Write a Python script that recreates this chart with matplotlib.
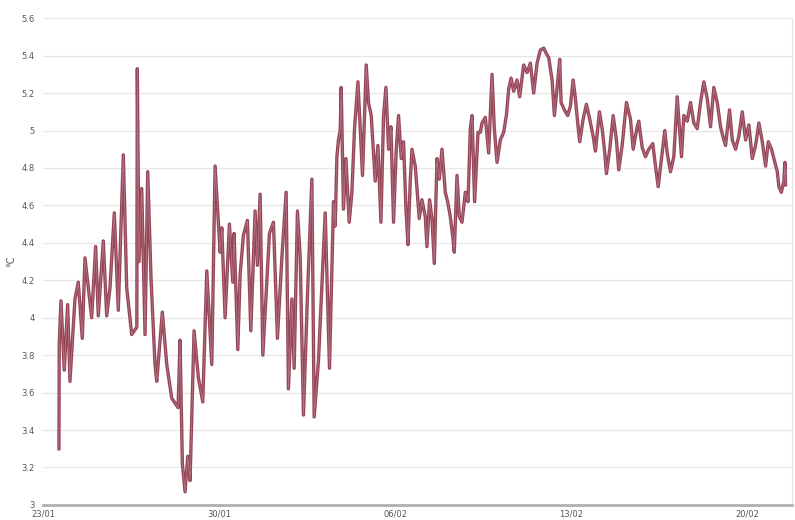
import matplotlib
matplotlib.use("Agg")
import matplotlib.pyplot as plt
import matplotlib.dates as mdates
import pandas as pd

# fractional days since 23/01 and temperature (°C)
days = [0.636, 0.648, 0.716, 0.847, 0.982, 1.074, 1.272, 1.404, 1.563, 1.670,
        1.936, 2.095, 2.199, 2.398, 2.533, 2.664, 2.835, 2.994, 3.193, 3.328,
        3.527, 3.730, 3.749, 3.817, 3.924, 4.056, 4.163, 4.294, 4.453, 4.521,
        4.744, 4.919, 5.117, 5.368, 5.447, 5.539, 5.646, 5.753, 5.845, 6.004,
        6.175, 6.350, 6.509, 6.708, 6.839, 6.930, 7.038, 7.105, 7.237, 7.408,
        7.543, 7.594, 7.741, 7.833, 7.964, 8.123, 8.258, 8.429, 8.521, 8.628,
        8.736, 8.895, 8.998, 9.157, 9.316, 9.491, 9.662, 9.753, 9.889, 9.980,
        10.111, 10.219, 10.350, 10.509, 10.684, 10.775, 10.946, 11.042, 11.213, 11.384,
        11.543, 11.610, 11.678, 11.741, 11.809, 11.849, 11.940, 12.036, 12.167, 12.274,
        12.378, 12.513, 12.604, 12.696, 12.843, 12.934, 13.042, 13.201, 13.308, 13.427,
        13.531, 13.626, 13.730, 13.825, 13.928, 14.036, 14.127, 14.235, 14.326, 14.421,
        14.501, 14.592, 14.660, 14.791, 14.950, 15.057, 15.189, 15.256, 15.360, 15.455,
        15.547, 15.654, 15.746, 15.853, 15.984, 16.076, 16.183, 16.274, 16.342, 16.449,
        16.541, 16.648, 16.779, 16.887, 16.978, 17.046, 17.149, 17.284, 17.376, 17.443,
        17.575, 17.706, 17.841, 17.932, 18.040, 18.171, 18.302, 18.410, 18.501, 18.597,
        18.700, 18.835, 18.939, 19.097, 19.233, 19.364, 19.495, 19.630, 19.761, 19.893,
        20.000, 20.091, 20.227, 20.318, 20.449, 20.529, 20.584, 20.716, 20.847, 20.954,
        21.062, 21.153, 21.245, 21.324, 21.459, 21.590, 21.722, 21.857, 21.948, 22.107,
        22.215, 22.306, 22.386, 22.517, 22.652, 22.783, 22.875, 23.010, 23.181, 23.340,
        23.447, 23.606, 23.670, 23.805, 23.936, 24.068, 24.227, 24.334, 24.441, 24.573,
        24.704, 24.799, 24.930, 25.062, 25.197, 25.260, 25.368, 25.459, 25.594, 25.726,
        25.857, 25.992, 26.123, 26.255, 26.390, 26.521, 26.652, 26.787, 26.918, 27.010,
        27.117, 27.276, 27.384, 27.515, 27.646, 27.781, 27.913, 28.044, 28.179, 28.310,
        28.441, 28.577, 28.708, 28.815, 28.946, 29.038, 29.173, 29.236, 29.332, 29.435,
        29.475, 29.503]
temps = [3.30, 3.86, 4.09, 3.72, 4.07, 3.66, 4.10, 4.19, 3.89, 4.32,
         4.00, 4.38, 4.01, 4.41, 4.01, 4.16, 4.56, 4.04, 4.87, 4.16,
         3.91, 3.95, 5.33, 4.30, 4.69, 3.91, 4.78, 4.21, 3.75, 3.66,
         4.03, 3.75, 3.57, 3.52, 3.88, 3.22, 3.07, 3.26, 3.13, 3.93,
         3.68, 3.55, 4.25, 3.75, 4.81, 4.60, 4.35, 4.48, 4.00, 4.50,
         4.19, 4.45, 3.83, 4.23, 4.44, 4.52, 3.93, 4.57, 4.28, 4.66,
         3.80, 4.19, 4.45, 4.51, 3.89, 4.32, 4.67, 3.62, 4.10, 3.73,
         4.57, 4.33, 3.48, 4.12, 4.74, 3.47, 3.77, 4.05, 4.56, 3.73,
         4.62, 4.49, 4.86, 4.95, 5.00, 5.23, 4.58, 4.85, 4.51, 4.67,
         5.01, 5.26, 5.01, 4.76, 5.35, 5.15, 5.08, 4.73, 4.92, 4.51,
         5.08, 5.23, 4.90, 5.02, 4.51, 4.90, 5.08, 4.85, 4.94, 4.58,
         4.39, 4.73, 4.90, 4.81, 4.53, 4.63, 4.54, 4.38, 4.63, 4.53,
         4.29, 4.85, 4.74, 4.90, 4.67, 4.62, 4.54, 4.44, 4.35, 4.76,
         4.54, 4.51, 4.67, 4.62, 5.01, 5.08, 4.62, 4.99, 4.99, 5.04,
         5.07, 4.88, 5.30, 5.01, 4.83, 4.95, 4.99, 5.08, 5.22, 5.28,
         5.21, 5.27, 5.18, 5.35, 5.31, 5.36, 5.20, 5.36, 5.43, 5.44,
         5.41, 5.39, 5.27, 5.08, 5.26, 5.38, 5.15, 5.11, 5.08, 5.13,
         5.27, 5.17, 5.04, 4.94, 5.06, 5.14, 5.06, 4.97, 4.89, 5.10,
         5.01, 4.90, 4.77, 4.90, 5.08, 4.95, 4.79, 4.92, 5.15, 5.06,
         4.90, 5.02, 5.05, 4.91, 4.86, 4.90, 4.93, 4.81, 4.70, 4.85,
         5.00, 4.88, 4.78, 4.86, 5.18, 5.06, 4.86, 5.08, 5.05, 5.15,
         5.04, 5.01, 5.15, 5.26, 5.17, 5.02, 5.23, 5.15, 5.02, 4.97,
         4.92, 5.11, 4.95, 4.90, 4.97, 5.10, 4.95, 5.03, 4.85, 4.92,
         5.04, 4.94, 4.81, 4.94, 4.90, 4.85, 4.78, 4.70, 4.67, 4.73,
         4.83, 4.71]

start = pd.Timestamp("2023-01-23")
times = start + pd.to_timedelta(days, unit="D")
tick_dates = pd.to_datetime(["2023-01-23", "2023-01-30", "2023-02-06",
                             "2023-02-13", "2023-02-20"])
y_ticks = [3, 3.2, 3.4, 3.6, 3.8, 4, 4.2, 4.4, 4.6, 4.8, 5, 5.2, 5.4, 5.6]

fig = plt.figure(figsize=(7.95, 5.2), dpi=100)
ax = fig.add_axes([0.054, 0.029, 0.942, 0.936])

ax.plot(times, temps, color="#944558", lw=2.4, solid_joinstyle="round")
ax.plot(times, temps, color="#d7a2ad", lw=0.6, alpha=0.5)

ax.set_xlim(start, start + pd.Timedelta(days=29.75))
ax.set_ylim(3, 5.6)
ax.set_yticks(y_ticks)
ax.set_yticklabels([f"{v:g}" for v in y_ticks])
ax.set_xticks(tick_dates)
ax.xaxis.set_major_formatter(mdates.DateFormatter("%d/%m"))

ax.grid(axis="y", color="#e8e8e8", lw=1)
ax.set_axisbelow(True)
for s in ["top", "left"]:
    ax.spines[s].set_visible(False)
ax.spines["right"].set_color("#e4e4e4")
ax.spines["bottom"].set_color("#b0b0b0")
ax.spines["bottom"].set_linewidth(2)
ax.tick_params(axis="both", length=0, colors="#555555")
ax.tick_params(axis="x", pad=3, labelsize=6)
ax.tick_params(axis="y", pad=6, labelsize=6)
ax.set_ylabel("°C", fontsize=7, color="#555555", labelpad=4)

fig.savefig("out.png", dpi=100)
